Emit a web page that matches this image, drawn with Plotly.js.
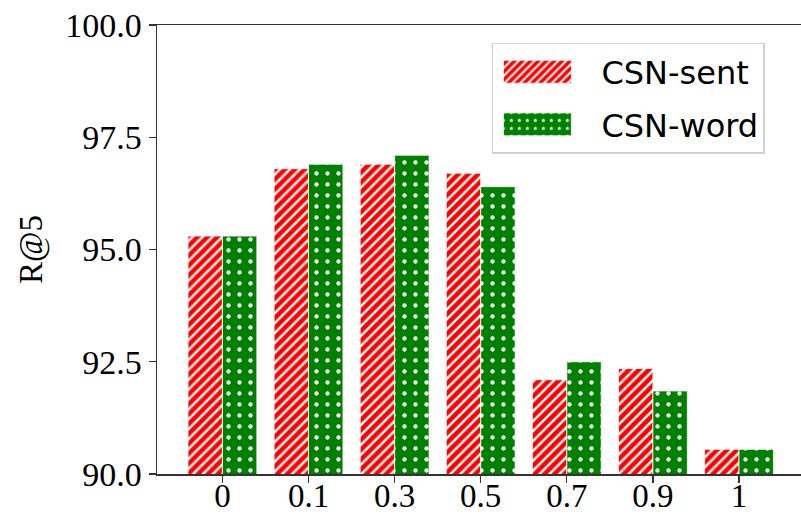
<!DOCTYPE html>
<html>
<head>
<meta charset="utf-8">
<script src="https://cdn.plot.ly/plotly-3.0.1.min.js"></script>
<style>html,body{margin:0;padding:0;background:#fff;}#chart{width:801px;height:517px;}</style>
</head>
<body>
<div id="chart"></div>
<script>
const categories = ['0', '0.1', '0.3', '0.5', '0.7', '0.9', '1'];
const csnSent = [95.3, 96.8, 96.9, 96.7, 92.1, 92.35, 90.55];
const csnWord = [95.3, 96.9, 97.1, 96.4, 92.5, 91.85, 90.55];
const yTicks = [90, 92.5, 95, 97.5, 100];

const serif = 'Liberation Serif, Times New Roman, serif';

const traces = [
  {
    type: 'bar', name: 'CSN-sent', x: categories, y: csnSent, base: 0,
    legendgroup: 'a',
    marker: {
      color: '#ff0000',
      line: {color: '#ffffff', width: 0.8},
      pattern: {shape: '/', fgcolor: '#ffffff', bgcolor: '#ff0000', size: 7, solidity: 0.35}
    }
  },
  {
    type: 'bar', name: 'CSN-word', x: categories, y: csnWord, base: 0,
    legendgroup: 'b',
    marker: {
      color: '#008000',
      line: {color: '#ffffff', width: 0.8},
      pattern: {shape: '.', fgcolor: '#ffffff', bgcolor: '#008000', size: 11, solidity: 0.12}
    }
  }
];

const layout = {
  width: 801, height: 517,
  margin: {l: 157, r: 0, t: 25, b: 43},
  paper_bgcolor: '#ffffff', plot_bgcolor: '#ffffff',
  barmode: 'group', bargap: 0.2, bargroupgap: 0,
  showlegend: true,
  legend: {
    x: 0.52, y: 0.96, xanchor: 'left', yanchor: 'top',
    bgcolor: '#ffffff', bordercolor: '#d0d0d0', borderwidth: 1.5,
    font: {family: 'DejaVu Sans, sans-serif', size: 32, color: '#000'},
    itemwidth: 98, traceorder: 'grouped', tracegroupgap: 8
  },
  xaxis: {
    type: 'category', range: [-0.76, 6.72],
    showline: true, linecolor: '#333', linewidth: 1.5, mirror: true,
    ticks: 'outside', ticklen: 7, tickwidth: 1.3, tickcolor: '#333',
    ticklabelstandoff: -15,
    showgrid: false, zeroline: false,
    tickfont: {family: serif, size: 33, color: '#000'}
  },
  yaxis: {
    range: [90, 100], tickvals: yTicks, tickformat: '.1f',
    showline: true, linecolor: '#333', linewidth: 1.5, mirror: false,
    ticks: 'outside', ticklen: 7, tickwidth: 1.3, tickcolor: '#333',
    showgrid: false, zeroline: false,
    tickfont: {family: serif, size: 34, color: '#000'},
    title: {text: 'R@5', font: {family: serif, size: 33, color: '#000'}, standoff: 12}
  }
};

Plotly.newPlot('chart', traces, layout, {displayModeBar: false, staticPlot: true}).then(function () {
  document.querySelectorAll('.legend .legendpoints path').forEach(function (p) {
    p.setAttribute('d', 'M24,11.5H-44V-11.5H24Z');
  });
});
</script>
</body>
</html>
